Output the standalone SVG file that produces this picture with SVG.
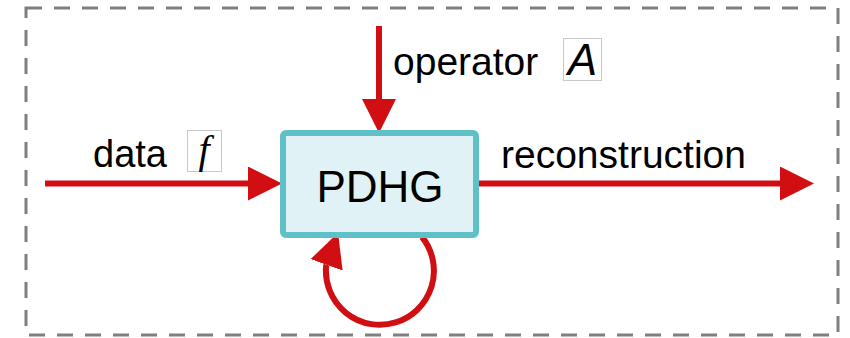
<svg xmlns="http://www.w3.org/2000/svg" width="850" height="338" viewBox="0 0 850 338">
<style>
.lbl{font-family:"Liberation Sans",Arial,sans-serif;fill:#000}
.conn{stroke:#d10f12;stroke-width:6;fill:none}
.mathbox{fill:#fff;stroke:#c8c8c8;stroke-width:1}
</style>
<defs>
<marker id="ah" markerUnits="userSpaceOnUse" markerWidth="34" markerHeight="34" refX="0" refY="17" orient="auto" viewBox="0 0 34 34">
<path d="M0,0 L34,17 L0,34 z" fill="#d10f12"/>
</marker>
</defs>
<rect x="26" y="8" width="812" height="327" fill="none" stroke="#7f7f7f" stroke-width="3" stroke-dasharray="16 12"/>
<g id="connectors">
<line class="conn" x1="45" y1="183.5" x2="248" y2="183.5" marker-end="url(#ah)"/>
<line class="conn" x1="379" y1="26" x2="379" y2="99" marker-end="url(#ah)"/>
<line class="conn" x1="479" y1="183.5" x2="780" y2="183.5" marker-end="url(#ah)"/>
<path class="conn" d="M422 237 A54 54 0 1 1 326.1 266.2 l0.5 -1.4" marker-end="url(#ah)"/>
</g>
<g id="pdhg">
<rect x="283" y="133" width="193" height="102" rx="3" fill="#e0f2f5" stroke="#5fc0c8" stroke-width="6"/>
<text class="lbl" x="380" y="202" font-size="44" text-anchor="middle">PDHG</text>
</g>
<g id="label-data">
<text class="lbl" x="93" y="167" font-size="38">data</text>
<rect class="mathbox" x="187.5" y="130.5" width="34" height="41"/>
<text x="204" y="163" font-size="40" font-style="italic" text-anchor="middle" font-family="Liberation Serif,serif">f</text>
</g>
<g id="label-operator">
<text class="lbl" x="393" y="75" font-size="39">operator</text>
<rect class="mathbox" x="563.5" y="38.5" width="38" height="42"/>
<text x="582.5" y="75" font-size="44" font-style="italic" text-anchor="middle" font-family="Liberation Sans,sans-serif">A</text>
</g>
<g id="label-reconstruction">
<text class="lbl" x="501" y="168" font-size="39">reconstruction</text>
</g>
</svg>
